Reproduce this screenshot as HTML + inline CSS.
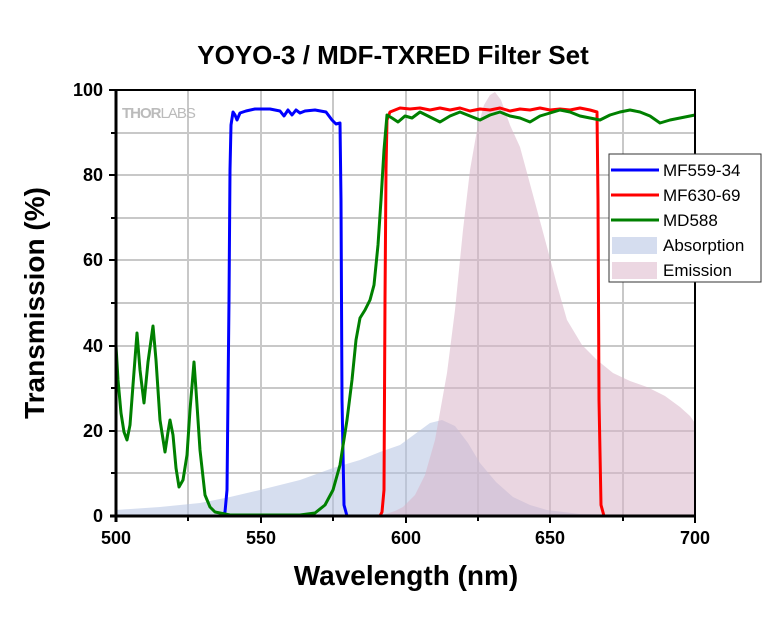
<!DOCTYPE html>
<html><head><meta charset="utf-8"><style>body{margin:0;background:#fff}svg{display:block}</style></head><body>
<svg width="780" height="630" viewBox="0 0 780 630" xmlns="http://www.w3.org/2000/svg" font-family="Liberation Sans, Arial, sans-serif">
<rect width="780" height="630" fill="#fff"/>
<text x="393" y="64" text-anchor="middle" font-size="26" font-weight="bold">YOYO-3 / MDF-TXRED Filter Set</text>
<g stroke="#c8c8c8" stroke-width="2">
<line x1="188" y1="90" x2="188" y2="516"/><line x1="261" y1="90" x2="261" y2="516"/><line x1="333" y1="90" x2="333" y2="516"/><line x1="406" y1="90" x2="406" y2="516"/><line x1="478" y1="90" x2="478" y2="516"/><line x1="550" y1="90" x2="550" y2="516"/><line x1="623" y1="90" x2="623" y2="516"/>
<line x1="116" y1="473" x2="695" y2="473"/><line x1="116" y1="431" x2="695" y2="431"/><line x1="116" y1="388" x2="695" y2="388"/><line x1="116" y1="346" x2="695" y2="346"/><line x1="116" y1="303" x2="695" y2="303"/><line x1="116" y1="260" x2="695" y2="260"/><line x1="116" y1="218" x2="695" y2="218"/><line x1="116" y1="175" x2="695" y2="175"/><line x1="116" y1="133" x2="695" y2="133"/>
</g>
<text x="122" y="118" font-size="15" font-weight="bold" fill="#bbb" letter-spacing="-1">THOR<tspan font-weight="normal">LABS</tspan></text>
<path d="M116,510 L160,507 L200,503 L230,497 L260,490 L300,480 L333,468 L360,460 L380,452 L400,445 L415,434 L430,423 L442,420 L455,426 L468,443 L480,463 L496,482 L513,497 L530,505 L547,510 L580,514 L620,515 L695,516 L116,516Z" fill="#b4c2e2" fill-opacity="0.55"/>
<path d="M380,516 L395,511 L403,507 L415,495 L425,475 L435,440 L447,373 L455,310 L463,230 L470,170 L477,130 L484,105 L490,95 L495,92 L501,100 L510,125 L520,147 L533,195 L547,247 L557,285 L567,320 L582,345 L597,360 L613,373 L630,381 L647,387 L665,396 L680,407 L690,416 L695,423 L695,516Z" fill="#d9b4c8" fill-opacity="0.55"/>
<g fill="none" stroke-width="3" stroke-linejoin="round">
<polyline stroke="#0000ff" points="116,516 222,516 225,512 227,490 229,300 230,170 231,125 233,112 235,115 237,120 240,113 246,111 255,109 270,109 280,111 284,116 288,110 292,115 296,110 300,113 305,111 315,110 326,112 332,120 336,124 340,123 341,200 342,400 344,505 347,516 695,516"/>
<polyline stroke="#ff0000" points="116,516 380,516 382,512 384,490 385,300 386,170 387,120 390,112 395,110 400,108 410,109 420,108 430,110 440,108 450,110 460,108 470,111 480,109 490,110 500,108 510,111 520,109 530,110 540,108 550,110 560,109 570,110 580,108 590,110 597,112 598,200 599,400 601,505 604,516 695,516"/>
<polyline stroke="#008000" points="116,346 118,380 121,413 124,432 127,440 130,425 133,385 137,333 140,370 144,403 148,362 153,326 156,360 160,420 165,452 168,432 170,420 173,435 176,468 179,487 183,480 187,455 190,410 194,362 196,390 200,450 205,495 210,507 215,512 230,515 300,515 315,513 325,505 333,490 340,465 347,420 352,380 356,340 360,318 365,310 370,300 374,285 378,245 381,200 384,150 387,115 392,118 398,122 405,116 412,118 420,112 430,117 440,122 450,116 460,112 470,116 480,120 490,115 500,112 510,116 520,118 530,122 540,116 550,113 560,110 570,112 580,116 590,118 600,120 610,115 620,112 630,110 640,112 650,116 660,123 670,120 680,118 690,116 695,115"/>
</g>
<g stroke="#000" stroke-width="2" fill="none">
<rect x="116" y="90" width="579" height="426"/>
</g>
<line x1="116" y1="89" x2="116" y2="522" stroke="#000" stroke-width="3"/>
<line x1="110" y1="516" x2="695" y2="516" stroke="#000" stroke-width="3"/>
<g stroke="#000" stroke-width="2">
<line x1="188" y1="516" x2="188" y2="521"/><line x1="261" y1="516" x2="261" y2="523"/><line x1="333" y1="516" x2="333" y2="521"/><line x1="406" y1="516" x2="406" y2="523"/><line x1="478" y1="516" x2="478" y2="521"/><line x1="550" y1="516" x2="550" y2="523"/><line x1="623" y1="516" x2="623" y2="521"/><line x1="695" y1="516" x2="695" y2="523"/>
<line x1="111" y1="473" x2="116" y2="473"/><line x1="109" y1="431" x2="116" y2="431"/><line x1="111" y1="388" x2="116" y2="388"/><line x1="109" y1="346" x2="116" y2="346"/><line x1="111" y1="303" x2="116" y2="303"/><line x1="109" y1="260" x2="116" y2="260"/><line x1="111" y1="218" x2="116" y2="218"/><line x1="109" y1="175" x2="116" y2="175"/><line x1="111" y1="133" x2="116" y2="133"/><line x1="109" y1="90" x2="116" y2="90"/>
</g>
<g font-size="18" font-weight="bold" text-anchor="middle">
<text x="116" y="544">500</text><text x="261" y="544">550</text><text x="406" y="544">600</text><text x="550" y="544">650</text><text x="695" y="544">700</text>
</g>
<g font-size="18" font-weight="bold" text-anchor="end">
<text x="103" y="522">0</text><text x="103" y="437">20</text><text x="103" y="352">40</text><text x="103" y="266">60</text><text x="103" y="181">80</text><text x="103" y="96">100</text>
</g>
<text x="406" y="585" text-anchor="middle" font-size="28" font-weight="bold">Wavelength (nm)</text>
<text transform="translate(44,303) rotate(-90)" text-anchor="middle" font-size="28" font-weight="bold">Transmission (%)</text>
<rect x="609" y="154" width="152" height="128" fill="#fff" stroke="#333" stroke-width="1"/>
<line x1="611" y1="170" x2="659" y2="170" stroke="#0000ff" stroke-width="3"/>
<line x1="611" y1="195" x2="659" y2="195" stroke="#ff0000" stroke-width="3"/>
<line x1="611" y1="220" x2="659" y2="220" stroke="#008000" stroke-width="3"/>
<rect x="612" y="237" width="45" height="17" fill="#d5ddef"/>
<rect x="612" y="262" width="45" height="17" fill="#ecd7e2"/>
<g font-size="17">
<text x="663" y="176">MF559-34</text><text x="663" y="201">MF630-69</text><text x="663" y="226">MD588</text><text x="663" y="251">Absorption</text><text x="663" y="276">Emission</text>
</g>
</svg>
</body></html>
